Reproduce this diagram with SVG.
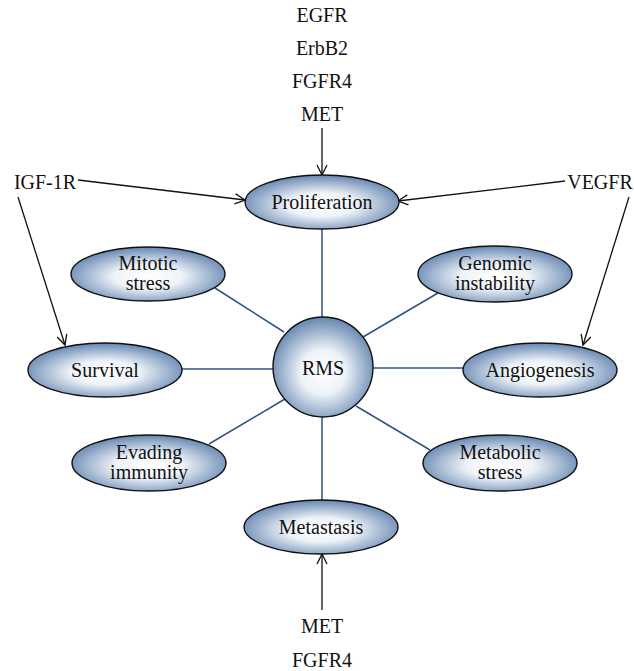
<svg xmlns="http://www.w3.org/2000/svg" width="634" height="671" viewBox="0 0 634 671">
<style>
text{font-family:"Liberation Serif","DejaVu Serif",serif;font-size:20px;fill:#111;text-anchor:middle}
.node{fill:url(#g);stroke:#111;stroke-width:1.4}
.link{stroke:#2e5380;stroke-width:1.5;fill:none}
.arr{stroke:#111;stroke-width:1.3;fill:none;marker-end:url(#ah)}
</style>
<defs>
<radialGradient id="g" cx="0.5" cy="0.55" r="0.55">
<stop offset="0" stop-color="#ffffff"/>
<stop offset="0.4" stop-color="#eef3f8"/>
<stop offset="1" stop-color="#6586b1"/>
</radialGradient>
<marker id="ah" viewBox="0 0 12 12" refX="11" refY="6" markerWidth="12" markerHeight="12" markerUnits="userSpaceOnUse" orient="auto">
<path d="M1,1 L11,6 L1,11" fill="none" stroke="#111" stroke-width="1.3"/>
</marker>
</defs>
<g id="connectors">
<line class="link" x1="322" y1="229" x2="322" y2="317"/>
<line class="link" x1="215" y1="288" x2="284" y2="332"/>
<line class="link" x1="438" y1="293" x2="363" y2="337"/>
<line class="link" x1="182" y1="369" x2="273" y2="369"/>
<line class="link" x1="373" y1="368" x2="463" y2="368"/>
<line class="link" x1="209" y1="444" x2="285" y2="399"/>
<line class="link" x1="356" y1="406" x2="430" y2="450"/>
<line class="link" x1="322" y1="417" x2="322" y2="501"/>
<line class="arr" x1="322" y1="128" x2="322" y2="175"/>
<line class="arr" x1="78" y1="180" x2="245" y2="200"/>
<line class="arr" x1="18" y1="197" x2="65" y2="345"/>
<line class="arr" x1="565" y1="181" x2="398" y2="201"/>
<line class="arr" x1="629" y1="197" x2="583" y2="345"/>
<line class="arr" x1="322" y1="610" x2="322" y2="554"/>
</g>
<g id="labels">
<text x="322" y="22">EGFR</text>
<text x="322" y="55">ErbB2</text>
<text x="322" y="88">FGFR4</text>
<text x="322" y="121">MET</text>
<text x="45" y="189">IGF-1R</text>
<text x="600" y="189">VEGFR</text>
<text x="322" y="633">MET</text>
<text x="322" y="667">FGFR4</text>
</g>
<g id="proliferation"><ellipse class="node" cx="322" cy="202" rx="77" ry="27"/><text x="322" y="209">Proliferation</text></g>
<g id="mitotic"><ellipse class="node" cx="148" cy="274" rx="77" ry="27"/><text x="148" y="270">Mitotic</text><text x="148" y="290">stress</text></g>
<g id="genomic"><ellipse class="node" cx="495" cy="274" rx="77" ry="28"/><text x="495" y="270">Genomic</text><text x="495" y="290">instability</text></g>
<g id="survival"><ellipse class="node" cx="105" cy="370" rx="77" ry="27"/><text x="105" y="377">Survival</text></g>
<g id="rms"><circle class="node" cx="323" cy="367" r="50"/><text x="323" y="375">RMS</text></g>
<g id="angiogenesis"><ellipse class="node" cx="540" cy="370" rx="77" ry="27"/><text x="540" y="377">Angiogenesis</text></g>
<g id="evading"><ellipse class="node" cx="149" cy="463" rx="77" ry="28"/><text x="149" y="459">Evading</text><text x="149" y="479">immunity</text></g>
<g id="metabolic"><ellipse class="node" cx="500" cy="463" rx="77" ry="28"/><text x="500" y="459">Metabolic</text><text x="500" y="479">stress</text></g>
<g id="metastasis"><ellipse class="node" cx="321" cy="527" rx="77" ry="27"/><text x="321" y="534">Metastasis</text></g>
</svg>
